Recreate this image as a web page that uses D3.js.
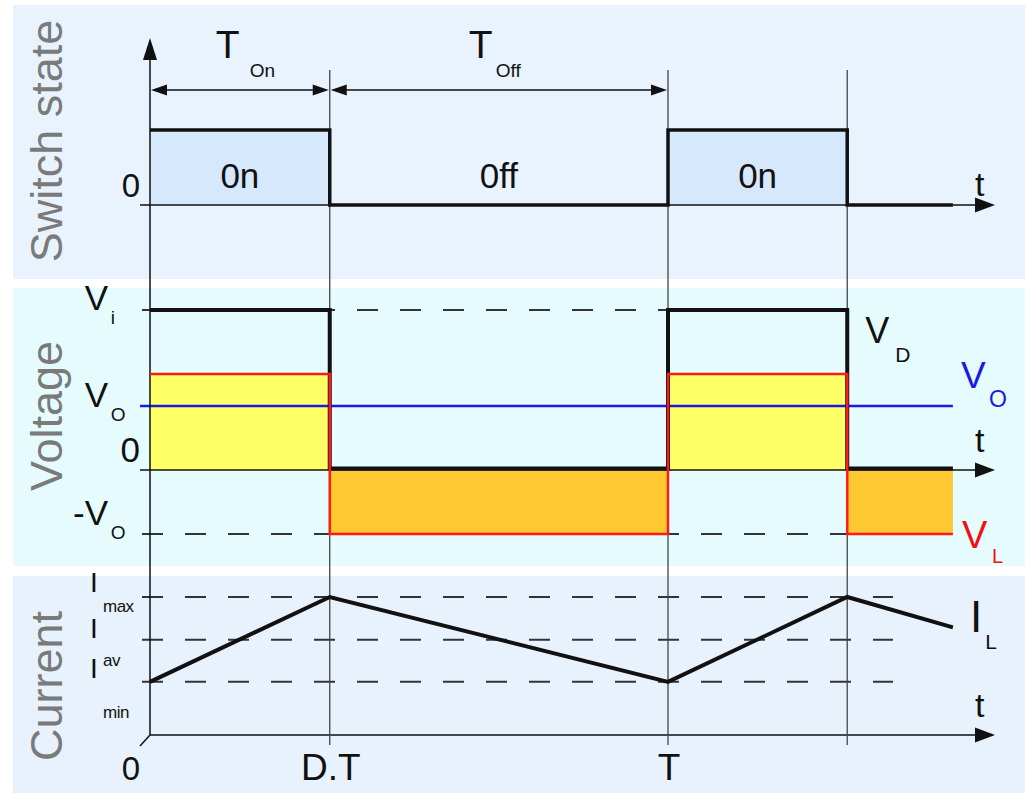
<!DOCTYPE html>
<html>
<head>
<meta charset="utf-8">
<script src="https://cdn.jsdelivr.net/npm/d3@7/dist/d3.min.js"></script>
<style>
body { margin: 0; background: #fff; }
text { font-family: "Liberation Sans", Arial, sans-serif; }
</style>
</head>
<body>
<div id="svg"></div>
<script>
// switching instants, in units of the period T
var edges = [0, 0.347, 1, 1.346, 1.55];
var switchState = [1, 0, 1, 0];
var stateNames = ["0n", "0ff", "0n", "0ff"];
var periodNames = [["T", "On"], ["T", "Off"]];

// voltages, in units of Vo
var vD = [2.5, 0, 2.5, 0];
var vL = [1.5, -1, 1.5, -1];
var vO = 1;
var vLevels = [2.5, 1, 0, -1];
var vNames = [["V", "i"], ["V", "O"], ["0", ""], ["-V", "O"]];

// inductor current (normalised)
var iL = [0.385, 1, 0.385, 1, 0.78];
var iLevels = [1, 0.69, 0.385];
var iNames = ["max", "av", "min"];

var tTicks = [0, 0.347, 1];
var tLabels = ["0", "D.T", "T"];
var panelNames = ["Switch state", "Voltage", "Current"];

var width = 1025,
    height = 793;

var svg = d3.select("#svg").append("svg")
    .attr("width", width)
    .attr("height", height);

var x = d3.scaleLinear().domain([0, 1]).range([150, 668]);
var ySw = d3.scaleLinear().domain([0, 1]).range([205, 130]);
var yV = d3.scaleLinear().domain([0, 1]).range([470, 406]);
var yI = d3.scaleLinear().domain([0, 1]).range([735, 597]);

var xTick = 140, xArrow = 995, xEnd = x(edges[edges.length - 1]);
var ink = "#111";

// panel backgrounds
var panels = [
    { y: 5, h: 274, fill: "#e8f3fd", mid: 141 },
    { y: 288, h: 278, fill: "#e6fbfd", mid: 416 },
    { y: 576, h: 217, fill: "#e8f2fc", mid: 686 }
];
svg.selectAll("rect.panel")
    .data(panels)
    .enter().append("rect")
    .attr("class", "panel")
    .attr("x", 13)
    .attr("y", d => d.y)
    .attr("width", width - 13)
    .attr("height", d => d.h)
    .attr("fill", d => d.fill);

svg.selectAll("text.panel")
    .data(panelNames)
    .enter().append("text")
    .attr("class", "panel")
    .attr("transform", (d, i) => "translate(62," + panels[i].mid + ") rotate(-90)")
    .attr("text-anchor", "middle")
    .attr("font-size", 45)
    .attr("fill", "#7a7a7a")
    .text(d => d);

function steps(vals) {
    var pts = vals.map((v, i) => ({ t: edges[i], v: v }));
    pts.push({ t: edges[edges.length - 1], v: vals[vals.length - 1] });
    return pts;
}

function segments(vals) {
    return vals.map((v, i) => ({ t0: edges[i], t1: edges[i + 1], v: v, i: i }));
}

function arrowHead(px, py, dir, len, half) {
    var p = d3.path();
    if (dir == "right") { p.moveTo(px, py); p.lineTo(px - len, py - half); p.lineTo(px - len, py + half); }
    if (dir == "left") { p.moveTo(px, py); p.lineTo(px + len, py - half); p.lineTo(px + len, py + half); }
    if (dir == "up") { p.moveTo(px, py); p.lineTo(px - half, py + len); p.lineTo(px + half, py + len); }
    p.closePath();
    svg.append("path").attr("d", p.toString()).attr("fill", ink);
}

function hline(x1, x2, y, stroke, w, dash) {
    svg.append("line")
        .attr("x1", x1).attr("x2", x2)
        .attr("y1", y).attr("y2", y)
        .attr("stroke", stroke)
        .attr("stroke-width", w)
        .attr("stroke-dasharray", dash || null);
}

function subLabel(px, py, main, sub, size, subSize, sdx, sdy, color, anchor) {
    var t = svg.append("text")
        .attr("x", px)
        .attr("y", py)
        .attr("fill", color || ink)
        .attr("font-size", size)
        .attr("text-anchor", anchor || "start")
        .text(main);
    if (sub) {
        var bb = t.node().getBBox();
        svg.append("text")
            .attr("x", bb.x + bb.width + sdx)
            .attr("y", py + sdy)
            .attr("fill", color || ink)
            .attr("font-size", subSize)
            .text(sub);
    }
}

// ---------- switch state panel ----------
svg.selectAll("rect.on")
    .data(segments(switchState).filter(d => d.v == 1))
    .enter().append("rect")
    .attr("class", "on")
    .attr("x", d => x(d.t0))
    .attr("y", ySw(1))
    .attr("width", d => x(d.t1) - x(d.t0))
    .attr("height", ySw(0) - ySw(1))
    .attr("fill", "#d6e8fb");

hline(xTick, xArrow - 15, ySw(0), ink, 1.5);
arrowHead(xArrow, ySw(0), "right", 20, 7.5);

// dimension arrows T_on / T_off
[[edges[0], edges[1]], [edges[1], edges[2]]].forEach(function (s, i) {
    hline(x(s[0]) + 10, x(s[1]) - 10, 90, ink, 1.5);
    arrowHead(x(s[0]) + 1, 90, "left", 16, 5.5);
    arrowHead(x(s[1]) - 1, 90, "right", 16, 5.5);
    var mid = (x(s[0]) + x(s[1])) / 2;
    subLabel(mid - (i == 0 ? 24 : 30), 58, periodNames[i][0], periodNames[i][1], 39, 19, i == 0 ? 10 : 3, 19);
});

svg.selectAll("text.state")
    .data(segments(switchState))
    .enter().append("text")
    .attr("class", "state")
    .attr("x", d => (x(d.t0) + x(d.t1)) / 2)
    .attr("y", ySw(0) - 17)
    .attr("text-anchor", "middle")
    .attr("font-size", 35)
    .attr("fill", ink)
    .text((d, i) => i < 3 ? stateNames[i] : "");

// ---------- voltage panel ----------
svg.selectAll("rect.vl")
    .data(segments(vL))
    .enter().append("rect")
    .attr("class", "vl")
    .attr("x", d => x(d.t0))
    .attr("y", d => yV(Math.max(0, d.v)))
    .attr("width", d => x(d.t1) - x(d.t0))
    .attr("height", d => Math.abs(yV(d.v) - yV(0)))
    .attr("fill", d => d.v > 0 ? "#ffff66" : "#fec831");

hline(142, x(edges[2]), yV(vLevels[0]), "#333", 2, "21,22");
hline(142, x(edges[3]), yV(vLevels[3]), "#333", 2, "21,22");
hline(xTick, xArrow - 15, yV(0), ink, 1.5);
arrowHead(xArrow, yV(0), "right", 20, 7.5);
hline(xTick, xEnd, yV(vO), "#1a1ae6", 2.5);

// ---------- current panel ----------
iLevels.forEach(function (v) {
    hline(142, 893, yI(v), "#333", 2, "21,22");
});
hline(x(0), xArrow - 15, yI(0), ink, 1.5);
arrowHead(xArrow, yI(0), "right", 20, 7.5);
svg.append("line")
    .attr("x1", xTick).attr("y1", yI(0) + 11)
    .attr("x2", x(0)).attr("y2", yI(0))
    .attr("stroke", ink).attr("stroke-width", 1.5);

// switching instants
svg.selectAll("line.edge")
    .data(edges.slice(1, 4))
    .enter().append("line")
    .attr("class", "edge")
    .attr("x1", d => x(d)).attr("x2", d => x(d))
    .attr("y1", 70).attr("y2", 745)
    .attr("stroke", "#444")
    .attr("stroke-width", 1.3);

// vertical axis
svg.append("line")
    .attr("x1", x(0)).attr("x2", x(0))
    .attr("y1", 55).attr("y2", yI(0))
    .attr("stroke", ink).attr("stroke-width", 1.5);
arrowHead(x(0), 38, "up", 22, 7);

// signals
var step = d3.line().curve(d3.curveStepAfter).x(d => x(d.t));

svg.append("path")
    .datum(steps(switchState))
    .attr("d", step.y(d => ySw(d.v)))
    .attr("fill", "none")
    .attr("stroke", ink)
    .attr("stroke-width", 3.5);

svg.append("path")
    .datum(steps(vD))
    .attr("d", step.y(d => yV(d.v) - (d.v == 0 ? 1.5 : 0)))
    .attr("fill", "none")
    .attr("stroke", ink)
    .attr("stroke-width", 4);

svg.append("path")
    .datum(steps(vL))
    .attr("d", step.y(d => yV(d.v)))
    .attr("fill", "none")
    .attr("stroke", "#ff1a1a")
    .attr("stroke-width", 2.5);

svg.append("path")
    .datum(iL.map((v, i) => ({ t: edges[i], v: v })))
    .attr("d", d3.line().x(d => x(d.t)).y(d => yI(d.v)))
    .attr("fill", "none")
    .attr("stroke", ink)
    .attr("stroke-width", 4);

// ---------- labels ----------
subLabel(140, ySw(0) - 8, "0", "", 33, 0, 0, 0, ink, "end");

var vMainDy = [0, 1, -8, -9];
vLevels.forEach(function (v, i) {
    if (vNames[i][1]) {
        subLabel(108, yV(v) + vMainDy[i], vNames[i][0], vNames[i][1], 35, 19, 2, 14, ink, "end");
    } else {
        subLabel(140, yV(v) + vMainDy[i], vNames[i][0], "", 35, 0, 0, 0, ink, "end");
    }
});

var iMainDy = [-5, -2, -4];
var iSubDy = [15, 26, 36];
iLevels.forEach(function (v, i) {
    subLabel(90, yI(v) + iMainDy[i], "I", "", 28, 0, 0, 0);
    svg.append("text")
        .attr("x", 103)
        .attr("y", yI(v) + iSubDy[i])
        .attr("font-size", 17)
        .attr("fill", ink)
        .attr("letter-spacing", -0.5)
        .text(iNames[i]);
});

svg.selectAll("text.tick")
    .data(tTicks)
    .enter().append("text")
    .attr("class", "tick")
    .attr("x", (d, i) => i == 0 ? x(d) - 10 : x(d) + 1)
    .attr("y", 780)
    .attr("text-anchor", (d, i) => i == 0 ? "end" : "middle")
    .attr("font-size", (d, i) => i == 0 ? 33 : 37)
    .attr("fill", ink)
    .text((d, i) => tLabels[i]);

[ySw(0) - 9, yV(0) - 18, yI(0) - 18].forEach(function (yy) {
    svg.append("text")
        .attr("x", 975)
        .attr("y", yy)
        .attr("font-size", 34)
        .attr("fill", ink)
        .text("t");
});

subLabel(x(edges[3]) + 18, 343, "V", "D", 36, 21, 6, 19, ink);
subLabel(xEnd + 8, 388, "V", "O", 37, 23, 3, 19, "#1a1ae6");
subLabel(xEnd + 9, 548, "V", "L", 38, 20, 4, 15, "#ee1111");
subLabel(xEnd + 17, 632, "I", "L", 44, 21, 3, 17, ink);
</script>
</body>
</html>
